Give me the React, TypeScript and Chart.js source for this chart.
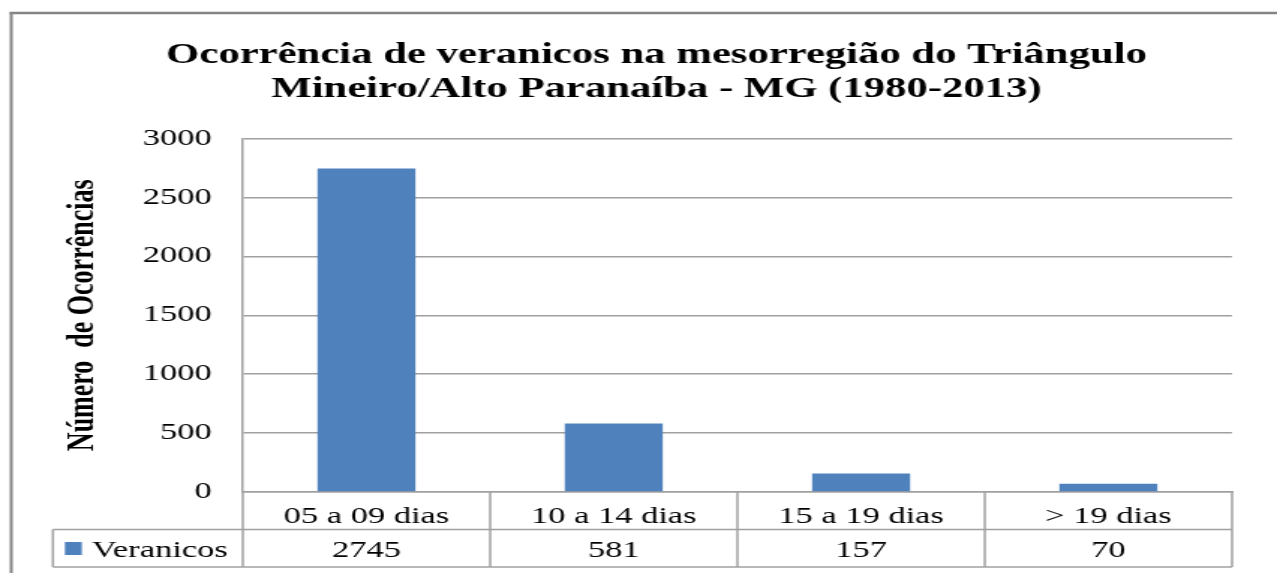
import React, { useEffect, useRef } from 'react';
import { Chart, registerables } from 'chart.js';

Chart.register(...registerables);

// ---- data ----
const categories = ['05 a 09 dias', '10 a 14 dias', '15 a 19 dias', '> 19 dias'];
const veranicos = [2745, 581, 157, 70];
const seriesLabel = 'Veranicos';
const titleLines = [
  'Ocorrência de veranicos na mesorregião do Triângulo',
  'Mineiro/Alto Paranaíba - MG (1980-2013)',
];
const yAxisTitle = 'Número  de Ocorrências';
const yTickValues = [0, 500, 1000, 1500, 2000, 2500, 3000];
const yTickLabels = ['0', '500', '1000', '1500', '2000', '2500', '3000'];

// ---- layout / style ----
const W = 852;
const H = 573;
const SX = 1277 / W;
const FONT = "'Liberation Serif', 'Times New Roman', Times, serif";
const LINE = '#a0a0a0';
const BAR = '#4F81BD';

const tablePlugin = {
  id: 'dataTable',
  afterDraw(chart: any) {
    const { ctx, scales } = chart;
    const x = scales.x;
    const n = categories.length;
    const cw = (x.right - x.left) / n;
    const top = x.top;
    const rowH = 37.5;
    const mid = top + rowH;
    const bot = mid + rowH;
    const legLeft = 35.3;
    const ds = chart.data.datasets[0];

    ctx.save();
    ctx.strokeStyle = LINE;
    ctx.lineWidth = 1.5;
    const line = (x1: number, y1: number, x2: number, y2: number) => {
      ctx.beginPath();
      ctx.moveTo(x1, y1);
      ctx.lineTo(x2, y2);
      ctx.stroke();
    };
    line(legLeft, mid, x.right, mid);
    line(legLeft, bot, x.right, bot);
    for (let i = 0; i <= n; i++) {
      const xi = x.left + i * cw;
      line(xi, top, xi, bot);
    }
    line(legLeft, mid, legLeft, bot);

    // legend key
    ctx.fillStyle = ds.backgroundColor;
    ctx.fillRect(43.3, mid + 12.5, 11.3, 13);
    ctx.fillStyle = '#000';
    ctx.font = `23px ${FONT}`;
    ctx.textAlign = 'left';
    ctx.textBaseline = 'alphabetic';
    ctx.fillText(ds.label, 61.3, mid + 27);

    // values
    ctx.textAlign = 'center';
    (ds.data as number[]).forEach((v, i) => {
      ctx.fillText(String(v), x.getPixelForValue(i), mid + 27);
    });

    // outer frame
    ctx.strokeStyle = '#858585';
    ctx.lineWidth = 2.5;
    line(6.5, 13, W, 13);
    ctx.lineWidth = 2;
    line(7.5, 12, 7.5, H);
    ctx.restore();
  },
};

export default function App() {
  const ref = useRef<HTMLCanvasElement>(null);

  useEffect(() => {
    const chart = new Chart(ref.current as HTMLCanvasElement, {
      type: 'bar',
      data: {
        labels: categories,
        datasets: [
          {
            label: seriesLabel,
            data: veranicos,
            backgroundColor: BAR,
            barPercentage: 0.396,
            categoryPercentage: 1,
          },
        ],
      },
      options: {
        responsive: false,
        animation: false,
        layout: { padding: { left: 54, right: 30, top: 0, bottom: 0 } },
        plugins: {
          legend: { display: false },
          tooltip: { enabled: false },
          title: {
            display: true,
            text: titleLines,
            color: '#000',
            font: { family: FONT, size: 28.5, weight: 'bold', lineHeight: 1.18 },
            padding: { top: 38.9, bottom: 32.4 },
          },
        },
        scales: {
          x: {
            grid: { display: false },
            border: { display: true, color: LINE, width: 1.5 },
            ticks: { padding: 3.5, color: '#000', font: { family: FONT, size: 23 } },
            afterFit: (s: any) => {
              s.height = 81;
            },
          },
          y: {
            min: 0,
            max: 3000,
            afterBuildTicks: (s: any) => {
              s.ticks = yTickValues.map((v) => ({ value: v }));
            },
            grid: { color: LINE, lineWidth: 1.5, drawTicks: false },
            border: { display: true, color: LINE, width: 1.5 },
            ticks: {
              padding: 20.7,
              color: '#000',
              font: { family: FONT, size: 23 },
              callback: (_v: any, i: number) => yTickLabels[i],
            },
            title: {
              display: true,
              text: yAxisTitle,
              color: '#000',
              font: { family: FONT, size: 26, weight: 'bold' },
              padding: { top: -14.6, bottom: 0 },
            },
            afterFit: (s: any) => {
              s.width = 108;
            },
          },
        },
      },
      plugins: [tablePlugin],
    });
    return () => chart.destroy();
  }, []);

  return (
    <div
      style={{
        position: 'absolute',
        left: 0,
        top: 0,
        width: 1277,
        height: 573,
        overflow: 'hidden',
        background: '#fff',
      }}
    >
      <div style={{ width: W, height: H, transform: `scaleX(${SX})`, transformOrigin: '0 0' }}>
        <canvas ref={ref} width={W} height={H} style={{ display: 'block', width: W, height: H }} />
      </div>
    </div>
  );
}
